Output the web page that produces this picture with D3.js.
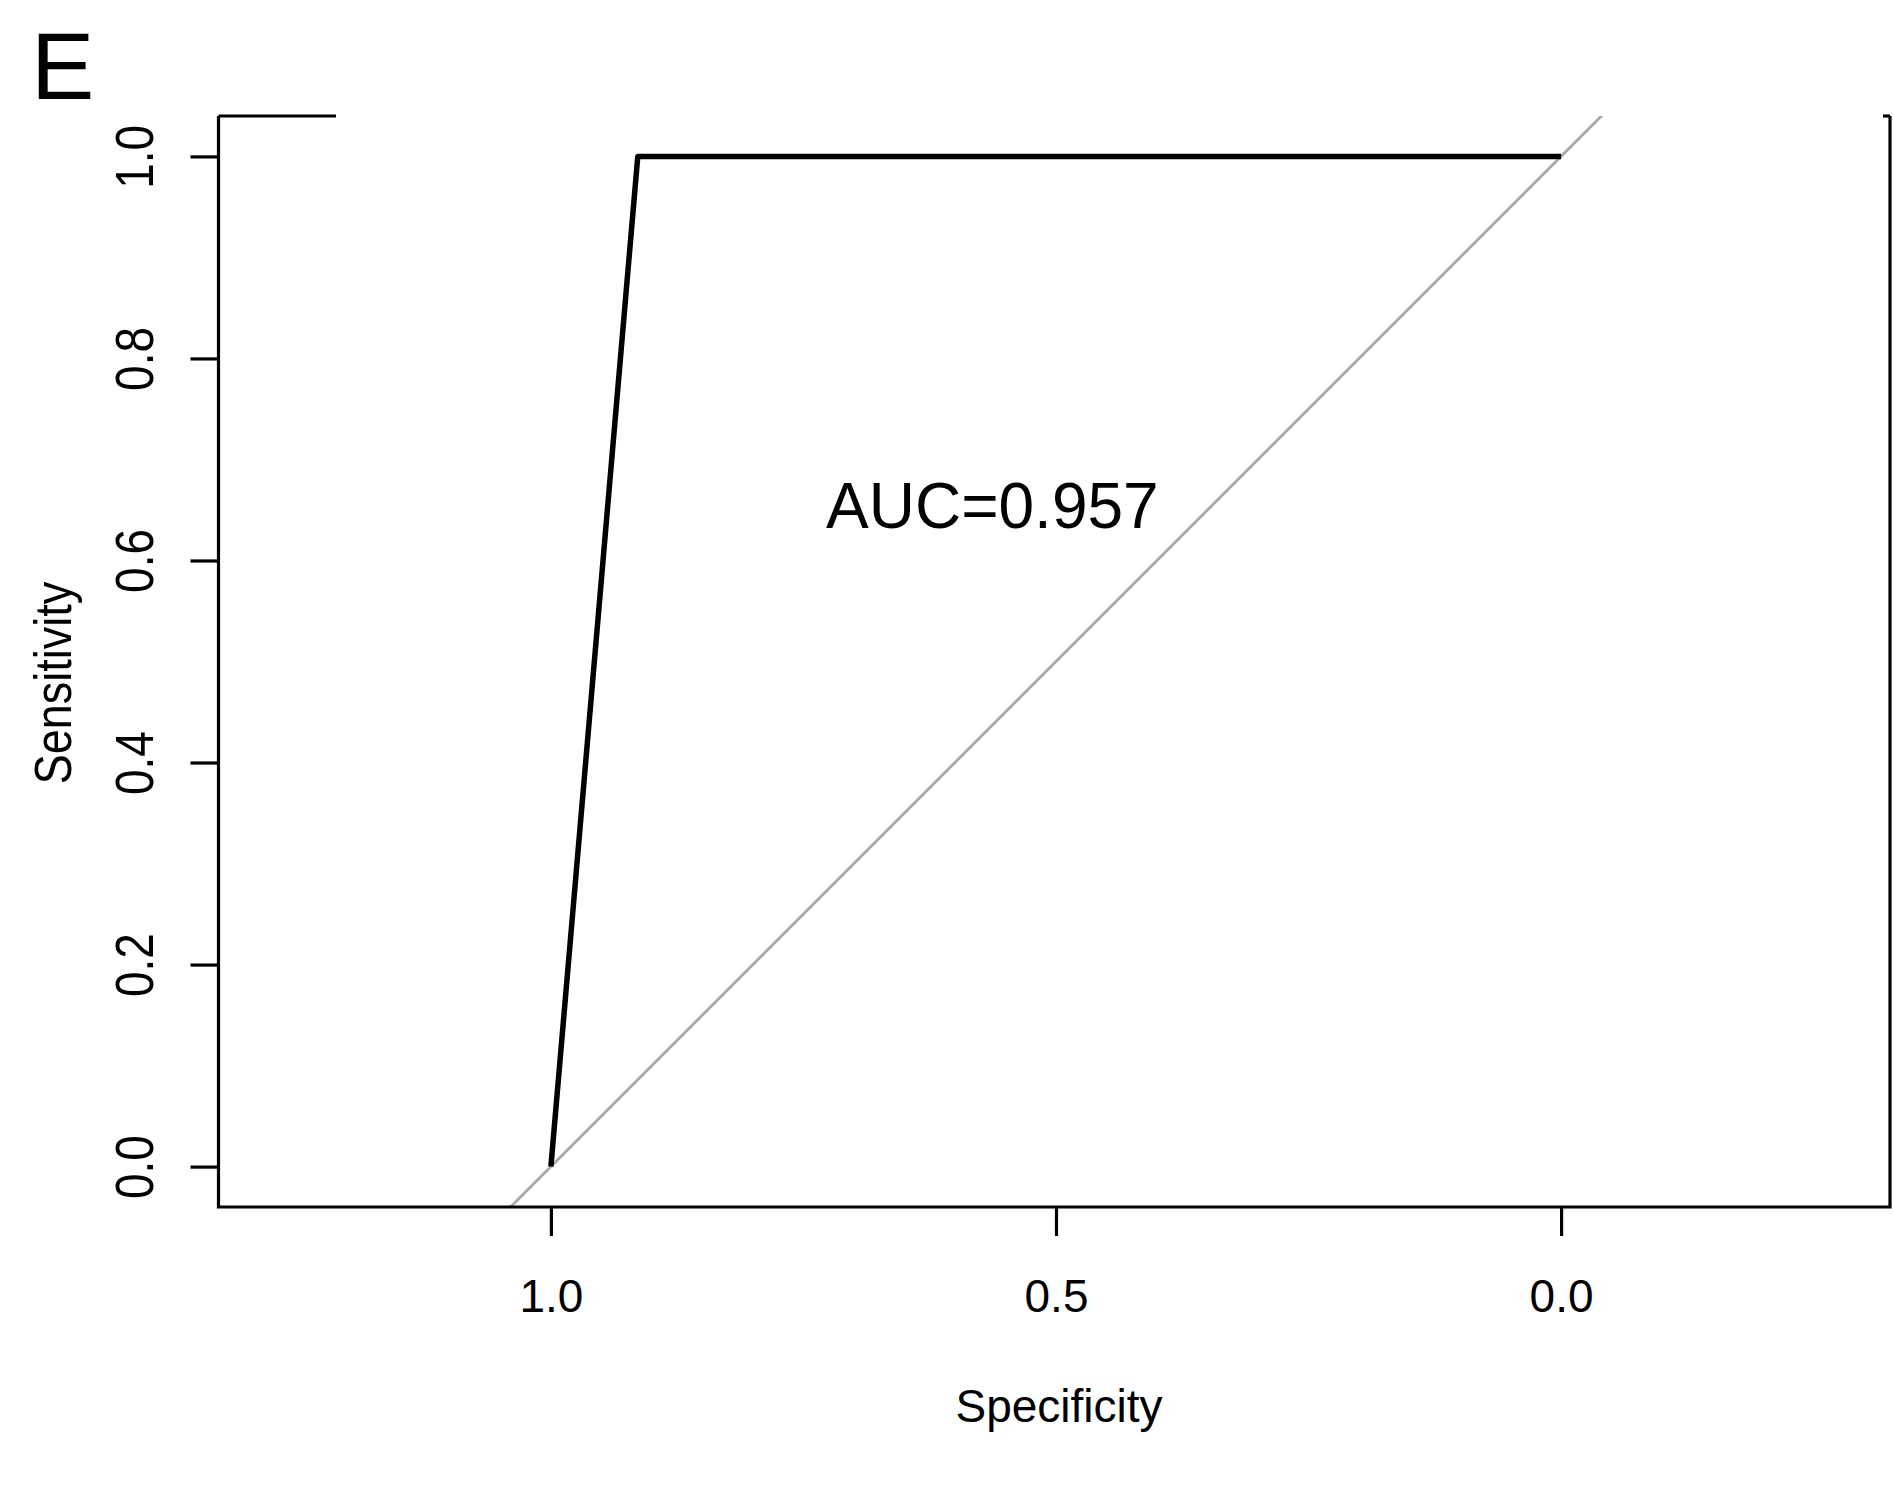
<!DOCTYPE html>
<html>
<head>
<meta charset="utf-8">
<script src="https://cdn.jsdelivr.net/npm/d3@7"></script>
<style>
  body { margin: 0; background: #fff; }
  text { font-family: "Liberation Sans", Arial, sans-serif; fill: #000; }
</style>
</head>
<body>
<div id="chart"></div>
<script>
// ROC curve points
const specificity = [1.0, 0.914, 0.0];
const sensitivity = [0.0, 1.0, 1.0];
const aucLabel = "AUC=0.957";

const xTicks = [1.0, 0.5, 0.0];
const yTicks = [0.0, 0.2, 0.4, 0.6, 0.8, 1.0];

const width = 1893;
const height = 1495;

// plot box
const boxLeft = 218.5, boxRight = 1890, boxTop = 116, boxBottom = 1207;

let svg = d3.select("#chart")
  .append("svg")
  .attr("width", width)
  .attr("height", height);

// asp = 1 in the original, so the x range is wider than [0,1]
let y = d3.scaleLinear().domain([-0.04, 1.04]).range([boxBottom, boxTop]);
let pxPerUnit = (boxBottom - boxTop) / 1.08;
let xMax = 1 + (550.9 - boxLeft) / pxPerUnit;
let x = d3.scaleLinear()
  .domain([xMax, xMax - (boxRight - boxLeft) / pxPerUnit])
  .range([boxLeft, boxRight]);

svg.append("defs").append("clipPath")
  .attr("id", "plot-clip")
  .append("rect")
  .attr("x", boxLeft).attr("y", boxTop)
  .attr("width", boxRight - boxLeft).attr("height", boxBottom - boxTop);

// chance diagonal
svg.append("line")
  .attr("clip-path", "url(#plot-clip)")
  .attr("x1", x(1.5)).attr("y1", y(-0.5))
  .attr("x2", x(-0.5)).attr("y2", y(1.5))
  .style("stroke", "#a8a8a8")
  .style("stroke-width", 2.8);

// roc curve
let line = d3.line()
  .x(function (d) { return x(d[0]); })
  .y(function (d) { return y(d[1]); });

svg.append("path")
  .datum(specificity.map(function (s, i) { return [s, sensitivity[i]]; }))
  .attr("d", line)
  .style("fill", "none")
  .style("stroke", "#000")
  .style("stroke-width", 5.5)
  .style("stroke-linejoin", "round");

// box: left, bottom, right, and the bits of top that are visible
let boxColor = "#000";
svg.append("path")
  .attr("d", `M${boxLeft},${boxTop} L${boxLeft},${boxBottom} L${boxRight},${boxBottom} L${boxRight},${boxTop}`)
  .style("fill", "none").style("stroke", boxColor).style("stroke-width", 3.2);
svg.append("line")
  .attr("x1", boxLeft).attr("y1", boxTop).attr("x2", 336).attr("y2", boxTop)
  .style("stroke", boxColor).style("stroke-width", 3.2);
svg.append("line")
  .attr("x1", 1883).attr("y1", boxTop).attr("x2", boxRight).attr("y2", boxTop)
  .style("stroke", boxColor).style("stroke-width", 3.2);

// x axis
let xAxis = d3.axisBottom(x)
  .tickValues(xTicks)
  .tickSize(29)
  .tickPadding(0)
  .tickFormat(d3.format(".1f"));

let gx = svg.append("g")
  .attr("transform", `translate(0, ${boxBottom})`)
  .call(xAxis);
gx.select(".domain").remove();
gx.selectAll(".tick line").style("stroke", "#000").style("stroke-width", 3.2);
gx.selectAll(".tick text")
  .attr("y", 105)
  .attr("dy", null)
  .style("font-size", "46px")
  .style("font-family", "'Liberation Sans', Arial, sans-serif")
  .attr("fill", "#000");

// y axis
let yAxis = d3.axisLeft(y)
  .tickValues(yTicks)
  .tickSize(28)
  .tickFormat(d3.format(".1f"));

let gy = svg.append("g")
  .attr("transform", `translate(${boxLeft}, 0)`)
  .call(yAxis);
gy.select(".domain").remove();
gy.selectAll(".tick line").style("stroke", "#000").style("stroke-width", 3.2);
gy.selectAll(".tick text")
  .attr("x", null).attr("dy", null)
  .attr("text-anchor", "middle")
  .attr("transform", "translate(-66, 0) rotate(-90) scale(1, 1.17)")
  .style("font-size", "46px")
  .style("font-family", "'Liberation Sans', Arial, sans-serif")
  .attr("fill", "#000");

// axis titles
svg.append("text")
  .attr("x", 1059)
  .attr("y", 1422)
  .attr("text-anchor", "middle")
  .style("font-size", "46px")
  .text("Specificity");

svg.append("text")
  .attr("transform", "translate(71, 683) rotate(-90) scale(1, 1.17)")
  .attr("text-anchor", "middle")
  .style("font-size", "45px")
  .text("Sensitivity");

// auc label
svg.append("text")
  .attr("x", 826)
  .attr("y", 528)
  .style("font-size", "64px")
  .text(aucLabel);

// panel letter
svg.append("text")
  .attr("x", 31)
  .attr("y", 99)
  .style("font-size", "95px")
  .text("E");
</script>
</body>
</html>
